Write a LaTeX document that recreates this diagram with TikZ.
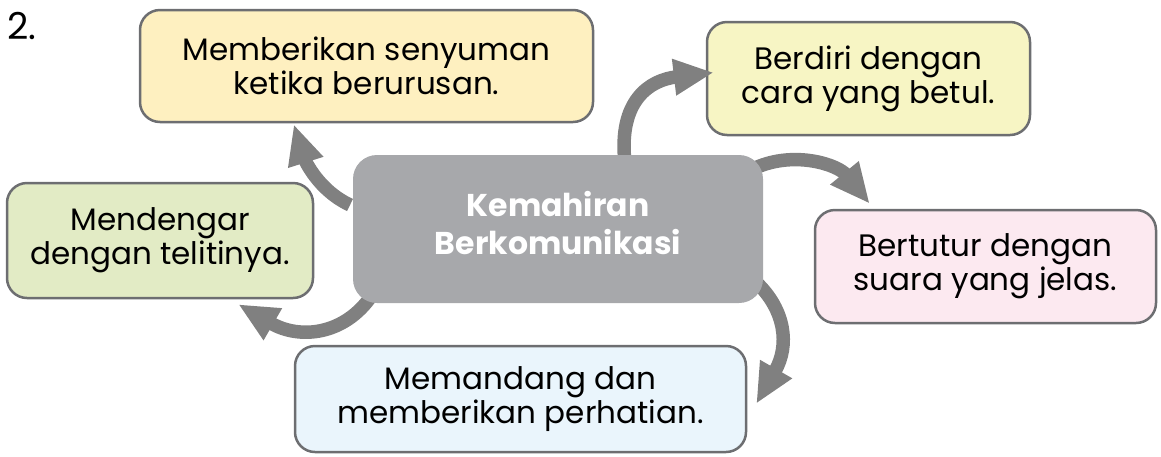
\documentclass[tikz,border=0pt]{standalone}
\usepackage{fontspec}
\setmainfont{Poppins}
\usetikzlibrary{arrows.meta,calc}
\definecolor{bordergray}{HTML}{6D6E71}
\definecolor{arrowgray}{HTML}{808080}
\definecolor{centergray}{HTML}{A7A8AB}
\definecolor{fillyellow}{HTML}{FEF0C0}
\definecolor{fillcream}{HTML}{F7F5C4}
\definecolor{fillgreen}{HTML}{E2EBC5}
\definecolor{fillpink}{HTML}{FCE9F0}
\definecolor{fillblue}{HTML}{EAF5FC}
\tikzset{
  outerbox/.style={draw=bordergray, line width=2.5pt, rounded corners=20pt, align=center,
    font=\fontsize{31}{34}\selectfont, inner sep=0pt},
  centerbox/.style={fill=centergray, rounded corners=24pt, align=center, text=white,
    font=\fontsize{31.5}{38}\selectfont\bfseries, inner sep=0pt, text depth=12pt},
  bigarrow/.style={draw=arrowgray, line width=13.5pt, -{Triangle[length=40pt,width=34pt]}}
}
\begin{document}
\begin{tikzpicture}[x=1pt,y=-1pt]
\useasboundingbox (0,0) rectangle (1161,456);
\node[font=\fontsize{37}{40}\selectfont, anchor=base west, inner sep=0pt] (num) at (7,39) {2.};
\node[outerbox, fill=fillyellow, minimum width=453pt, minimum height=112pt] (y1) at (366.5,66) {Memberikan senyuman\\ketika berurusan.};
\node[outerbox, fill=fillcream, minimum width=323pt, minimum height=113pt] (y2) at (868.5,78.5) {Berdiri dengan\\cara yang betul.};
\node[outerbox, fill=fillgreen, minimum width=306pt, minimum height=115pt] (g) at (160,240.5) {Mendengar\\dengan telitinya.};
\node[outerbox, fill=fillpink, minimum width=341pt, minimum height=113pt] (p) at (985.5,266.5) {Bertutur dengan\\suara yang jelas.};
\node[outerbox, fill=fillblue, minimum width=451pt, minimum height=106pt] (b) at (520.5,399) {Memandang dan\\memberikan perhatian.};
% arrows (drawn before the centre box so they start beneath it)
\coordinate (c) at (558,229);
\draw[bigarrow] ($(c)+(-208,-24)$) .. controls (318,190) and (305,160) .. ([xshift=155pt,yshift=-1pt]y1.south west);
\draw[bigarrow] ($(c)+(67,-66)$) .. controls (618,100) and (650,80) .. ([xshift=8pt,yshift=6pt]y2.west);
\draw[bigarrow] ($(c)+(197,-61)$) .. controls (795,150) and (838,165) .. ([xshift=56pt,yshift=5pt]p.north west);
\draw[bigarrow] ($(c)+(-186,66)$) .. controls (345,335) and (300,340) .. ([xshift=-76pt,yshift=-5pt]g.south east);
\draw[bigarrow] ($(c)+(199,54)$) .. controls (785,310) and (790,345) .. ([xshift=9pt,yshift=-59pt]b.north east);
\node[centerbox, minimum width=410pt, minimum height=148pt] (cb) at (c) {Kemahiran\\Berkomunikasi};
\end{tikzpicture}
\end{document}
